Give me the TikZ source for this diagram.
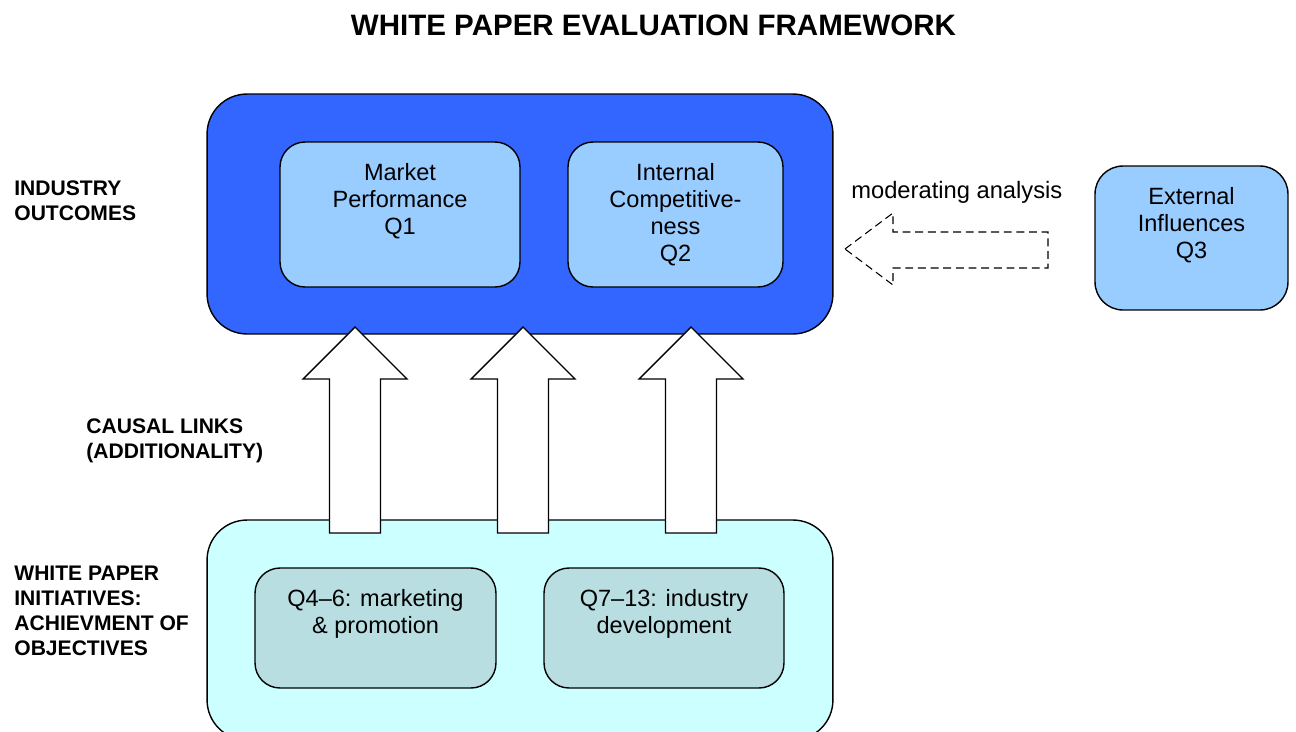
\documentclass[tikz,border=0pt]{standalone}
\usepackage{fontspec}
\setmainfont{Liberation Sans}
\usepackage{xcolor}
\usepackage{tikz}
\usetikzlibrary{positioning}
\definecolor{outerblue}{HTML}{3366FF}
\definecolor{innerblue}{HTML}{99CCFF}
\definecolor{paleaqua}{HTML}{CCFFFF}
\definecolor{greyteal}{HTML}{B8DEE2}
\tikzstyle{group}=[rectangle, rounded corners=0.8cm, draw=black, line width=0.8pt,
  minimum width=12.52cm, inner sep=0pt]
\tikzstyle{qbox}=[rectangle, rounded corners=0.5cm, draw=black, line width=0.8pt, inner sep=0pt]
\tikzstyle{qtext}=[inner sep=0pt, align=center, font=\fontsize{13.4}{15.3}\selectfont]
\tikzstyle{side}=[inner sep=0pt, align=left, anchor=north west,
  font=\bfseries\fontsize{12}{14.2}\selectfont]
\tikzstyle{blockarrow}=[draw=black, fill=white, line width=0.8pt, line join=miter]

\begin{document}
\begin{tikzpicture}[x=0.02cm, y=-0.02cm]
\useasboundingbox (0,0) rectangle (1296,731);
\node[inner sep=0pt, font=\bfseries\fontsize{16.8}{20}\selectfont] (title) at (653.5,25.5)
  {WHITE PAPER EVALUATION FRAMEWORK};
% two levels
\node[group, fill=outerblue, minimum height=4.8cm] (outcomes) at (520,214) {};
\node[group, fill=paleaqua, minimum height=4.4cm] (initiatives) at (520,630) {};
% questions
\node[qbox, fill=innerblue, minimum width=4.8cm, minimum height=2.9cm] (q1) at (400,214.5) {};
\node[qbox, fill=innerblue, minimum width=4.3cm, minimum height=2.9cm] (q2) at (675.5,214.5) {};
\node[qbox, fill=innerblue, minimum width=3.86cm, minimum height=2.88cm,
  rounded corners=0.56cm] (q3) at (1191.5,238) {};
\node[qbox, fill=greyteal, minimum width=4.82cm, minimum height=2.4cm] (q46) at (375.5,628) {};
\node[qbox, fill=greyteal, minimum width=4.8cm, minimum height=2.4cm] (q713) at (664,628) {};
\node[qtext, below=0.44cm of q1.north] (q1text) {Market\\Performance\\Q1};
\node[qtext, below=0.44cm of q2.north] (q2text) {Internal\\Competitive-\\ness\\Q2};
\node[qtext, below=0.44cm of q3.north] (q3text) {External\\Influences\\Q3};
\node[qtext, below=0.43cm of q46.north] (q46text) {Q4–6: marketing\\\& promotion};
\node[qtext, below=0.43cm of q713.north] (q713text) {Q7–13: industry\\development};
% causal links
\foreach \x in {355,523,691}
  \draw[blockarrow] (\x-25.5,533) -- (\x-25.5,379) -- (\x-52,379) -- (\x,327)
    -- (\x+52,379) -- (\x+25.5,379) -- (\x+25.5,533) -- cycle;
% moderating arrow from Q3
\draw[blockarrow, fill=none, line width=0.6pt, dash pattern=on 4.5pt off 2.7pt]
  (845,249) -- (893,213) -- (893,232) -- (1048,232) -- (1048,268)
  -- (893,268) -- (893,285) -- cycle;
\node[anchor=base west, inner sep=0pt, font=\fontsize{13.5}{15.3}\selectfont] (moderating)
  at (851,198) {moderating analysis};
% row labels
\node[side] (outlabel) at (14,180.5) {INDUSTRY\\OUTCOMES};
\node[side] (causlabel) at (86,418.5) {CAUSAL LINKS\\(ADDITIONALITY)};
\node[side] (initlabel) at (14,565.5) {WHITE PAPER\\INITIATIVES:\\ACHIEVMENT OF\\OBJECTIVES};
\end{tikzpicture}
\end{document}
